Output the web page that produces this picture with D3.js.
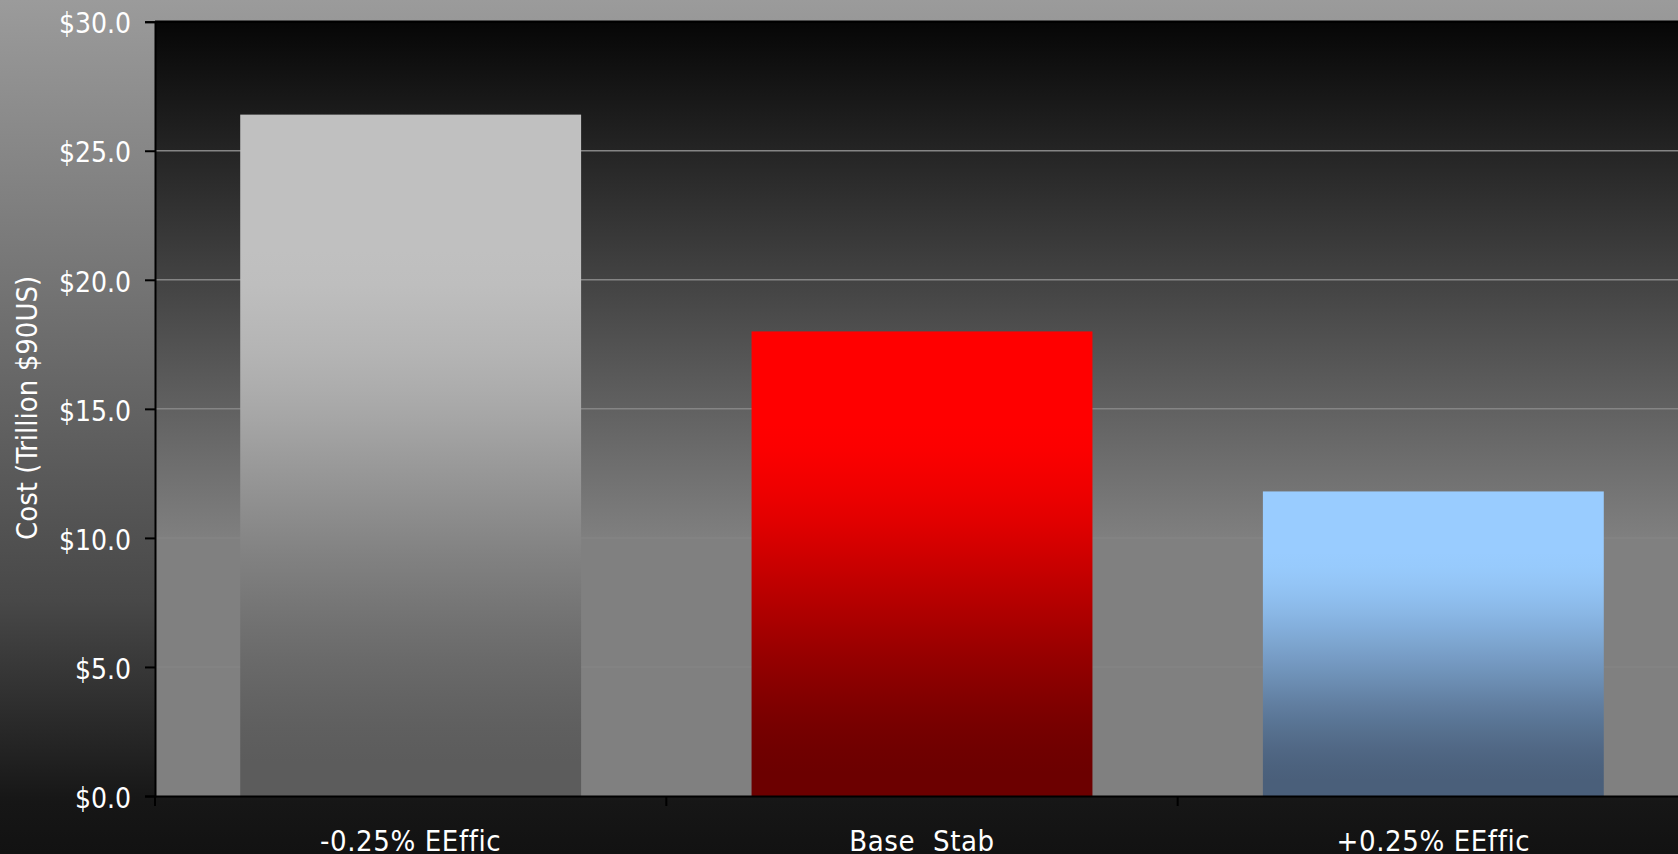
<!DOCTYPE html>
<html>
<head>
<meta charset="utf-8">
<script src="https://cdn.jsdelivr.net/npm/d3@7"></script>
<style>
  body { margin: 0; background: #111; overflow: hidden; }
  text { font-family: "DejaVu Sans Condensed", "DejaVu Sans", Verdana, sans-serif; fill: #fff; }
</style>
</head>
<body>
<svg id="chart"></svg>
<script>
// ---------------------------------------------
// DATA
// ---------------------------------------------
const categories = ["-0.25% EEffic", "Base  Stab", "+0.25% EEffic"];
const costs = [26.4, 18.0, 11.8];           // trillion $90US
const yTicks = [0, 5, 10, 15, 20, 25, 30];
const barTop = ["#c0c0c0", "#ff0000", "#99ccff"];
const barBottom = ["#5c5c5c", "#6c0000", "#4a5f7a"];
const yTitle = "Cost (Trillion $90US)";

// ---------------------------------------------
// SVG + SCALES
// ---------------------------------------------
const width = 1678, height = 854;
const plot = { left: 155, top: 21.7, right: 1689, bottom: 796 };
const font = "'DejaVu Sans Condensed', 'DejaVu Sans', Verdana, sans-serif";

const svg = d3.select("#chart").attr("width", width).attr("height", height);
const defs = svg.append("defs");

// helper for vertical gradients
function vGrad(id, stops) {
  const g = defs.append("linearGradient").attr("id", id)
    .attr("x1", 0).attr("y1", 0).attr("x2", 0).attr("y2", 1);
  stops.forEach(([o, c]) => g.append("stop").attr("offset", o).attr("stop-color", c));
}

vGrad("bgGrad", [[0, "#9b9b9b"], [0.234, "#808080"], [0.703, "#484848"], [0.94, "#161616"], [1, "#121212"]]);
vGrad("plotGrad", [[0, "#060606"], [0.67, "#808080"], [1, "#808080"]]);

// bar fill: light at top, eased down to the dark colour near the bottom
categories.forEach((c, i) => {
  const mix = d3.interpolateRgb(barTop[i], barBottom[i]);
  const stops = d3.range(0, 1.0001, 0.05).map(t => {
    const u = Math.max(0, Math.min(1, (t - 0.22) / 0.72));
    const e = u * u * (3 - 2 * u) * 0.6 + u * 0.4;
    return [t, mix(e)];
  });
  vGrad("bar" + i, stops);
});

const x = d3.scaleBand()
  .domain(categories)
  .range([plot.left, plot.right])
  .paddingInner(1 / 3)
  .paddingOuter(1 / 6);

const y = d3.scaleLinear().domain([0, 30]).range([plot.bottom, plot.top]);

// ---------------------------------------------
// BACKGROUNDS
// ---------------------------------------------
svg.append("rect").attr("width", width).attr("height", height).attr("fill", "url(#bgGrad)");

svg.append("rect")
  .attr("x", plot.left).attr("y", plot.top)
  .attr("width", plot.right - plot.left).attr("height", plot.bottom - plot.top)
  .attr("fill", "url(#plotGrad)");

// gridlines
svg.append("g")
  .selectAll("line")
  .data(yTicks.filter(d => d > 0 && d < 30))
  .join("line")
    .attr("x1", plot.left).attr("x2", plot.right)
    .attr("y1", d => y(d)).attr("y2", d => y(d))
    .attr("stroke", "#858585").attr("stroke-width", 1.5);

// ---------------------------------------------
// BARS
// ---------------------------------------------
svg.append("g")
  .selectAll("rect")
  .data(categories)
  .join("rect")
    .attr("x", d => x(d))
    .attr("width", x.bandwidth())
    .attr("y", (d, i) => y(costs[i]))
    .attr("height", (d, i) => y(0) - y(costs[i]))
    .attr("fill", (d, i) => `url(#bar${i})`);

// plot top border
svg.append("line")
  .attr("x1", plot.left).attr("x2", plot.right)
  .attr("y1", plot.top).attr("y2", plot.top)
  .attr("stroke", "#000").attr("stroke-width", 2.5);

// ---------------------------------------------
// AXES
// ---------------------------------------------
const yAxis = svg.append("g")
  .attr("transform", `translate(${plot.left},0)`)
  .call(d3.axisLeft(y).tickValues(yTicks).tickFormat(d3.format("$.1f")).tickSize(10).tickPadding(14));
yAxis.select(".domain").attr("stroke", "#000").attr("stroke-width", 2);
yAxis.selectAll(".tick line").attr("stroke", "#000").attr("stroke-width", 2);
yAxis.selectAll(".tick text")
  .attr("fill", "#fff").attr("font-size", "28px")
  .attr("font-family", font)
  .attr("dy", "0.4em");

const xAxis = svg.append("g")
  .attr("transform", `translate(0,${plot.bottom})`)
  .call(d3.axisBottom(x).tickSize(0).tickPadding(0));
xAxis.select(".domain").attr("stroke", "#000").attr("stroke-width", 2);
xAxis.selectAll(".tick text")
  .attr("fill", "#fff").attr("font-size", "29px")
  .attr("font-family", font)
  .attr("letter-spacing", "0.6px")
  .attr("y", 55).attr("dy", 0)
  .style("white-space", "pre");

// category boundary ticks
const gap = x.step() * x.paddingInner() / 2;
svg.append("g")
  .selectAll("line")
  .data(categories)
  .join("line")
    .attr("x1", d => x(d) - gap).attr("x2", d => x(d) - gap)
    .attr("y1", plot.bottom).attr("y2", plot.bottom + 10)
    .attr("stroke", "#000").attr("stroke-width", 2);

// y title
svg.append("text")
  .attr("transform", `translate(37,${(plot.top + plot.bottom) / 2 - 1}) rotate(-90)`)
  .attr("text-anchor", "middle")
  .attr("font-size", "29px")
  .attr("font-family", font)
  .text(yTitle);
</script>
</body>
</html>
